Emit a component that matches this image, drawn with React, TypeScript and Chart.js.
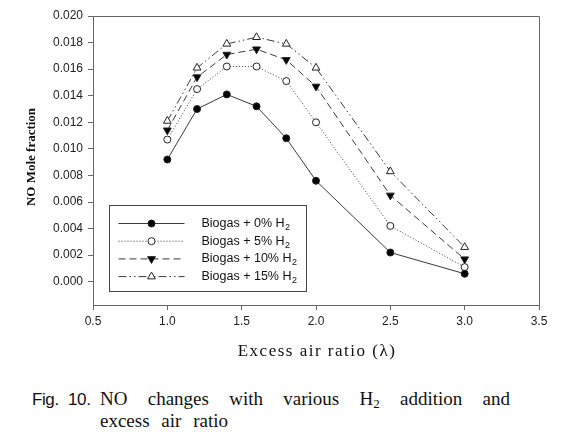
import React, { useEffect, useRef } from "react";
import { Chart, registerables } from "chart.js";

Chart.register(...registerables);

const lambdaValues = [1.0, 1.2, 1.4, 1.6, 1.8, 2.0, 2.5, 3.0];
const biogas0 = [0.0092, 0.013, 0.0141, 0.0132, 0.0108, 0.0076, 0.0022, 0.0006];
const biogas5 = [0.0107, 0.0145, 0.0162, 0.0162, 0.0151, 0.012, 0.0042, 0.0011];
const biogas10 = [0.0114, 0.0154, 0.0171, 0.0175, 0.0167, 0.0147, 0.0065, 0.0017];
const biogas15 = [0.0121, 0.0161, 0.0179, 0.0184, 0.0179, 0.0161, 0.0083, 0.0026];
const seriesLabels = ["Biogas + 0% H", "Biogas + 5% H", "Biogas + 10% H", "Biogas + 15% H"];
const yTickValues = [0, 0.002, 0.004, 0.006, 0.008, 0.01, 0.012, 0.014, 0.016, 0.018, 0.02];
const xTickValues = [0.5, 1.0, 1.5, 2.0, 2.5, 3.0, 3.5];
const xTitle = "Excess air ratio (λ)";
const yTitle = "NO Mole fraction";

const LINE = "#3a3a3a";

const styles = [
  { dash: [] as number[], style: "circle", rot: 0, fill: "#000", r: 3.5 },
  { dash: [1, 2], style: "circle", rot: 0, fill: "#fff", r: 3.5 },
  { dash: [7, 4], style: "triangle", rot: 180, fill: "#000", r: 4.5 },
  { dash: [8, 3, 1.5, 3, 1.5, 3], style: "triangle", rot: 0, fill: "#fff", r: 4.5 },
];

function drawMarker(ctx: CanvasRenderingContext2D, style: string, r: number, rot: number, x: number, y: number) {
  ctx.beginPath();
  if (style === "circle") {
    ctx.arc(x, y, r, 0, Math.PI * 2);
  } else {
    let rad = (rot * Math.PI) / 180;
    ctx.moveTo(x + Math.sin(rad) * r, y - Math.cos(rad) * r);
    rad += (2 * Math.PI) / 3;
    ctx.lineTo(x + Math.sin(rad) * r, y - Math.cos(rad) * r);
    rad += (2 * Math.PI) / 3;
    ctx.lineTo(x + Math.sin(rad) * r, y - Math.cos(rad) * r);
    ctx.closePath();
  }
  ctx.fill();
  ctx.stroke();
}

const frameAndLegend = {
  id: "frameAndLegend",
  afterDraw(chart: any) {
    const { ctx, chartArea } = chart;
    ctx.save();
    // frame (top and right borders)
    ctx.strokeStyle = "#666";
    ctx.lineWidth = 1;
    ctx.beginPath();
    ctx.moveTo(chartArea.left, chartArea.top + 0.5);
    ctx.lineTo(chartArea.right + 0.5, chartArea.top + 0.5);
    ctx.lineTo(chartArea.right + 0.5, chartArea.bottom);
    ctx.stroke();

    // axis titles
    ctx.fillStyle = "#111";
    ctx.textAlign = "center";
    ctx.textBaseline = "middle";
    ctx.font = "17px 'Liberation Serif', 'Times New Roman', serif";
    (ctx as any).letterSpacing = "1.5px";
    ctx.fillText(xTitle, (chartArea.left + chartArea.right) / 2 + 1, 351.5);
    (ctx as any).letterSpacing = "0px";
    ctx.save();
    ctx.translate(32, 157);
    ctx.rotate(-Math.PI / 2);
    ctx.font = "bold 13px 'Liberation Serif', 'Times New Roman', serif";
    ctx.fillText(yTitle, 0, 0);
    ctx.restore();

    // legend box
    const bx = chartArea.left + 16.5;
    const by = 205.5;
    const bw = 197;
    const bh = 86;
    ctx.fillStyle = "#fff";
    ctx.fillRect(bx, by, bw, bh);
    ctx.strokeStyle = "#444";
    ctx.strokeRect(bx, by, bw, bh);

    seriesLabels.forEach((label, i) => {
      const st = styles[i];
      const y = 223.5 + i * 17.7;
      ctx.strokeStyle = LINE;
      ctx.lineWidth = 1;
      ctx.setLineDash(st.dash);
      ctx.beginPath();
      ctx.moveTo(bx + 9, y);
      ctx.lineTo(bx + 75, y);
      ctx.stroke();
      ctx.setLineDash([]);
      ctx.fillStyle = st.fill;
      ctx.strokeStyle = "#222";
      drawMarker(ctx, st.style, st.r, st.rot, bx + 42, y);
      ctx.fillStyle = "#111";
      ctx.font = "12.5px 'Liberation Sans', Arial, sans-serif";
      ctx.textBaseline = "middle";
      ctx.textAlign = "left";
      const tx = bx + 92;
      ctx.fillText(label, tx, y);
      const w = ctx.measureText(label).width;
      ctx.font = "9px 'Liberation Sans', Arial, sans-serif";
      ctx.fillText("2", tx + w + 0.5, y + 4);
    });
    ctx.restore();
  },
};

export default function App() {
  const ref = useRef<HTMLCanvasElement | null>(null);

  useEffect(() => {
    document.body.style.margin = "0";
    const canvas = ref.current;
    if (!canvas) return;
    const allSeries = [biogas0, biogas5, biogas10, biogas15];
    const chart = new Chart(canvas, {
      type: "line",
      data: {
        datasets: allSeries.map((vals, i) => ({
          label: seriesLabels[i] + "2",
          data: lambdaValues.map((x, j) => ({ x, y: vals[j] })),
          borderColor: LINE,
          borderWidth: 1,
          borderDash: styles[i].dash,
          pointStyle: styles[i].style as any,
          pointRotation: styles[i].rot,
          pointRadius: styles[i].r,
          pointBackgroundColor: styles[i].fill,
          pointBorderColor: "#222",
          pointBorderWidth: 1,
          tension: 0,
          fill: false,
        })),
      },
      options: {
        responsive: false,
        animation: false,
        events: [],
        layout: { padding: { top: 16, right: 47, left: 0, bottom: 0 } },
        plugins: {
          legend: { display: false },
          tooltip: { enabled: false },
        },
        scales: {
          x: {
            type: "linear",
            min: 0.5,
            max: 3.5,
            afterBuildTicks: (s: any) => {
              s.ticks = xTickValues.map((v) => ({ value: v }));
            },
            afterFit: (s: any) => {
              s.height = 65;
            },
            ticks: {
              callback: (v: any) => Number(v).toFixed(1),
              font: { family: "'Liberation Sans', Arial, sans-serif", size: 12 },
              color: "#222",
              padding: 4,
              maxRotation: 0,
            },
            grid: {
              display: true,
              drawOnChartArea: false,
              drawTicks: true,
              tickLength: 5,
              color: "#666",
            },
            border: { color: "#666", width: 1 },
          },
          y: {
            type: "linear",
            min: -0.00175,
            max: 0.02,
            afterBuildTicks: (s: any) => {
              s.ticks = yTickValues.map((v) => ({ value: v }));
            },
            afterFit: (s: any) => {
              s.width = 93;
            },
            ticks: {
              callback: (v: any) => Number(v).toFixed(3),
              font: { family: "'Liberation Sans', Arial, sans-serif", size: 12 },
              color: "#222",
              padding: 5,
            },
            grid: {
              display: true,
              drawOnChartArea: false,
              drawTicks: true,
              tickLength: 5,
              color: "#666",
            },
            border: { color: "#666", width: 1 },
          },
        },
      },
      plugins: [frameAndLegend],
    });
    return () => chart.destroy();
  }, []);

  return (
    <div style={{ position: "fixed", left: 0, top: 0, width: 586, height: 447, background: "#fff" }}>
      <canvas ref={ref} width={586} height={370} style={{ display: "block", width: 586, height: 370 }} />
      <div
        style={{
          position: "absolute",
          left: 32,
          top: 389,
          fontFamily: "'Liberation Sans', Arial, sans-serif",
          fontSize: 17,
          color: "#111",
          lineHeight: "22px",
          wordSpacing: 5,
          letterSpacing: -0.4,
        }}
      >
        Fig. 10.
      </div>
      <div
        style={{
          position: "absolute",
          left: 100,
          top: 388,
          width: 410,
          fontFamily: "'Liberation Serif', 'Times New Roman', serif",
          fontSize: 19,
          color: "#111",
          lineHeight: "22px",
        }}
      >
        <div style={{ textAlign: "justify", textAlignLast: "justify" }}>
          NO changes with various H<sub style={{ fontSize: 13, verticalAlign: "-3px", lineHeight: 0 }}>2</sub> addition and
        </div>
        <div style={{ wordSpacing: 7 }}>excess air ratio</div>
      </div>
    </div>
  );
}
